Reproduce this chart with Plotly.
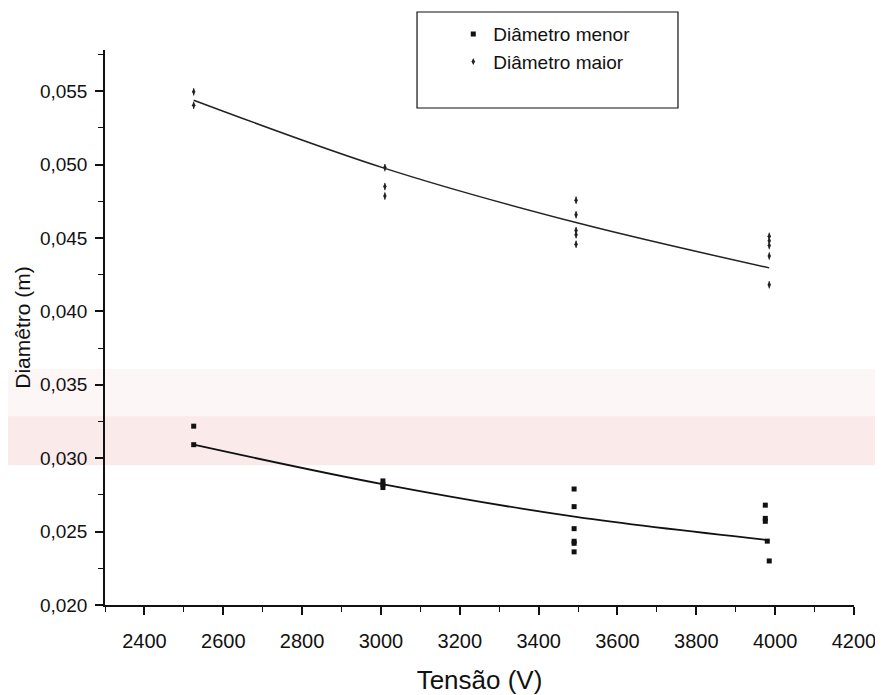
import plotly.graph_objects as go

# Diâmetro maior (upper series)
maior_x = [2525, 2525, 3010, 3010, 3010, 3495, 3495, 3495, 3495, 3495, 3985, 3985, 3985, 3985, 3985]
maior_y = [0.05495, 0.05403, 0.04979, 0.04850, 0.04785, 0.04757, 0.04658, 0.04550, 0.04522, 0.04457,
           0.04511, 0.04481, 0.04448, 0.04377, 0.04181]

# Diâmetro menor (lower series)
menor_x = [2525, 2525, 3005, 3005, 3005, 3490, 3490, 3490, 3490, 3490, 3490, 3975, 3975, 3975, 3980, 3985]
menor_y = [0.03218, 0.03092, 0.02845, 0.02822, 0.02800, 0.02790, 0.02670, 0.02520, 0.02434, 0.02420, 0.02362,
           0.02680, 0.02590, 0.02570, 0.02435, 0.02300]

# Fitted curves
fit_x = [2525, 3010, 3495, 3985]
fit_maior = [0.05438, 0.04974, 0.04605, 0.04296]
fit_menor = [0.03092, 0.02820, 0.02600, 0.02442]

fig = go.Figure()

fig.add_trace(go.Scatter(x=fit_x, y=fit_maior, mode="lines", line=dict(color="#222", width=1.5, shape="spline"),
                         showlegend=False, hoverinfo="skip"))
fig.add_trace(go.Scatter(x=fit_x, y=fit_menor, mode="lines", line=dict(color="#111", width=1.8, shape="spline"),
                         showlegend=False, hoverinfo="skip"))

fig.add_trace(go.Scatter(x=menor_x, y=menor_y, mode="markers", name="Diâmetro menor",
                         marker=dict(color="#111", size=5, symbol="square")))
fig.add_trace(go.Scatter(x=maior_x, y=maior_y, mode="markers", name="Diâmetro maior",
                         marker=dict(color="#222", size=5, symbol="diamond-tall"),
                         error_y=dict(type="constant", value=0.00025, color="#222", thickness=1, width=0)))

# The page body has an 8px default margin, so the figure is 8px smaller and left/top margins shifted by 8px
fig.update_layout(
    width=875, height=687,
    margin=dict(l=97, r=29, t=42, b=90, autoexpand=False),
    paper_bgcolor="white", plot_bgcolor="rgba(0,0,0,0)",
    separators=",.",
    font=dict(family="Liberation Sans, Arial, sans-serif", color="#111", size=18),
    legend=dict(x=0.465, y=1.063, xanchor="left", yanchor="top", bgcolor="rgba(0,0,0,0)",
                font=dict(size=19), itemsizing="trace", tracegroupgap=0),
    shapes=[
        dict(type="rect", xref="paper", yref="paper", x0=0.4166, x1=0.765, y0=0.8955, y1=1.0685,
             line=dict(color="#111", width=1.2), layer="above"),
        dict(type="rect", xref="paper", yref="paper", x0=-0.2, x1=1.1, y0=0.252, y1=0.34,
             fillcolor="rgba(240,190,190,0.33)", line=dict(width=0), layer="below"),
        dict(type="rect", xref="paper", yref="paper", x0=-0.2, x1=1.1, y0=0.34, y1=0.425,
             fillcolor="rgba(240,205,205,0.18)", line=dict(width=0), layer="below"),
    ],
)

fig.update_xaxes(range=[2300, 4200], tickvals=[2400, 2600, 2800, 3000, 3200, 3400, 3600, 3800, 4000, 4200],
                 automargin=False,
                 showgrid=False, zeroline=False, showline=True, linecolor="#111", linewidth=1.5,
                 ticks="outside", ticklen=8, tickwidth=1.5, tickcolor="#111", ticklabelstandoff=9,
                 tickfont=dict(size=20),
                 minor=dict(dtick=100, ticks="outside", ticklen=5, tickcolor="#111", tickwidth=1.2),
                 title=dict(text="Tensão (V)", font=dict(size=26), standoff=20))
fig.update_yaxes(range=[0.020, 0.0578], tickvals=[0.020, 0.025, 0.030, 0.035, 0.040, 0.045, 0.050, 0.055],
                 tickformat=".3f", automargin=False,
                 showgrid=False, zeroline=False, showline=True, linecolor="#111", linewidth=1.5,
                 ticks="outside", ticklen=8, tickwidth=1.5, tickcolor="#111", ticklabelstandoff=4,
                 tickfont=dict(size=19),
                 minor=dict(dtick=0.0025, ticks="outside", ticklen=5, tickcolor="#111", tickwidth=1.2),
                 title=dict(text="Diamêtro (m)", font=dict(size=21), standoff=4))

fig.write_html("out.html")
